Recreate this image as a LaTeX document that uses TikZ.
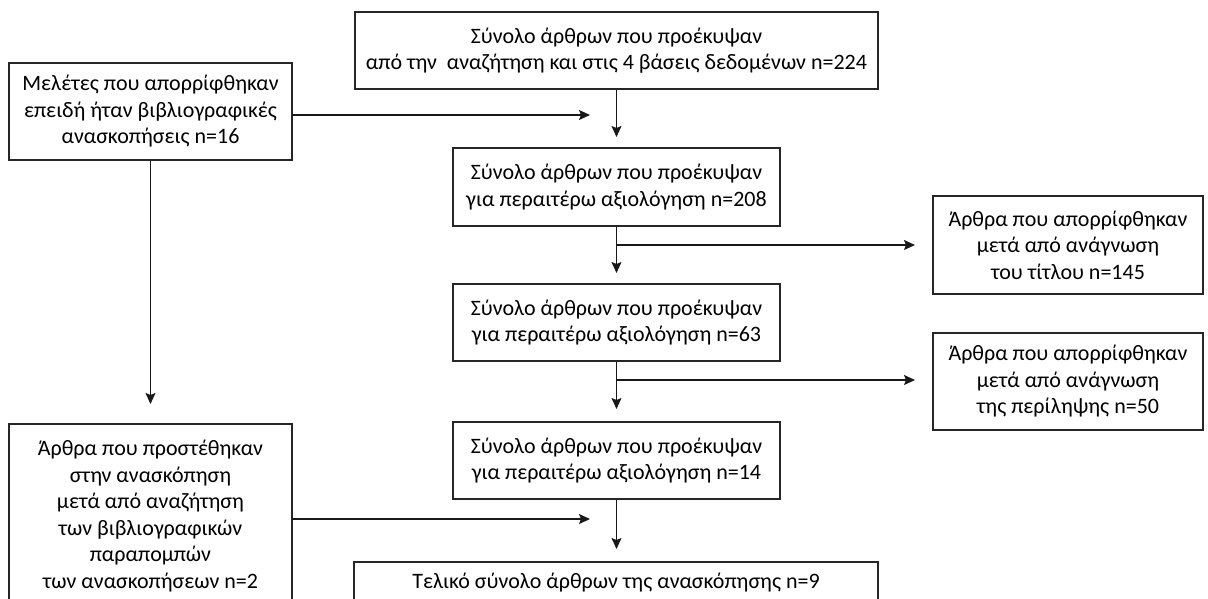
\documentclass[tikz,border=0pt]{standalone}
\usepackage{fontspec}
\setmainfont{Carlito}
\usetikzlibrary{arrows.meta}
\begin{document}
\begin{tikzpicture}[x=1pt,y=-1pt,
  box/.style={draw=black!85,line width=1.2pt,inner sep=0pt,align=center,
    font=\fontsize{22}{26.5}\selectfont,text=black},
  arr/.style={draw=black!90,line width=1.3pt,-{Stealth[length=11pt,width=10pt,inset=2pt]}}]
\useasboundingbox (0,0) rectangle (1208,598);
\clip (0,0) rectangle (1208,598);
\node[box,minimum width=523pt,minimum height=77pt] (top) at (616.5,50.5)
  {Σύνολο άρθρων που προέκυψαν\\από την~ αναζήτηση και στις 4 βάσεις δεδομένων n=224};
\node[box,minimum width=283pt,minimum height=97pt] (left1) at (150.5,111.5)
  {Μελέτες που απορρίφθηκαν\\επειδή ήταν βιβλιογραφικές\\ανασκοπήσεις n=16};
\node[box,minimum width=327pt,minimum height=78pt] (b2) at (616.5,187)
  {Σύνολο άρθρων που προέκυψαν\\για περαιτέρω αξιολόγηση n=208};
\node[box,minimum width=270pt,minimum height=98pt] (r1) at (1068,245)
  {Άρθρα που απορρίφθηκαν\\μετά από ανάγνωση\\του τίτλου n=145};
\node[box,minimum width=327pt,minimum height=77pt] (b3) at (616.5,322.5)
  {Σύνολο άρθρων που προέκυψαν\\για περαιτέρω αξιολόγηση n=63};
\node[box,minimum width=270pt,minimum height=97pt] (r2) at (1068,381.5)
  {Άρθρα που απορρίφθηκαν\\μετά από ανάγνωση\\της περίληψης n=50};
\node[box,minimum width=327pt,minimum height=77pt] (b4) at (616.5,460.5)
  {Σύνολο άρθρων που προέκυψαν\\για περαιτέρω αξιολόγηση n=14};
\node[box,minimum width=283pt,minimum height=184pt] (left2) at (150.5,516)
  {Άρθρα που προστέθηκαν\\στην ανασκόπηση\\μετά από αναζήτηση\\των βιβλιογραφικών\\παραπομπών\\των ανασκοπήσεων n=2};
\node[box,minimum width=524pt,minimum height=42pt] (fin) at (616,583)
  {Τελικό σύνολο άρθρων της ανασκόπησης n=9};
% free ends
\coordinate (t1) at (616.5,137);
\coordinate (t2) at (616.5,273);
\coordinate (t3) at (616.5,409);
\coordinate (t4) at (616.5,549);
\coordinate (j1) at (616.5,245);
\coordinate (j2) at (616.5,380);
\coordinate (e1) at (915,245);
\coordinate (e2) at (915,380);
\coordinate (s1) at (292,115);
\coordinate (f1) at (590,115);
\coordinate (s2) at (292,519);
\coordinate (f2) at (590,519);
\coordinate (tl) at (150.5,404);
\draw[arr] (top.south) -- (t1);
\draw[arr] (b2.south) -- (t2);
\draw[arr] (b3.south) -- (t3);
\draw[arr] (b4.south) -- (t4);
\draw[arr] (j1) -- (e1);
\draw[arr] (j2) -- (e2);
\draw[arr] (s1) -- (f1);
\draw[arr] (s2) -- (f2);
\draw[arr] (left1.south) -- (tl);
\end{tikzpicture}
\end{document}
